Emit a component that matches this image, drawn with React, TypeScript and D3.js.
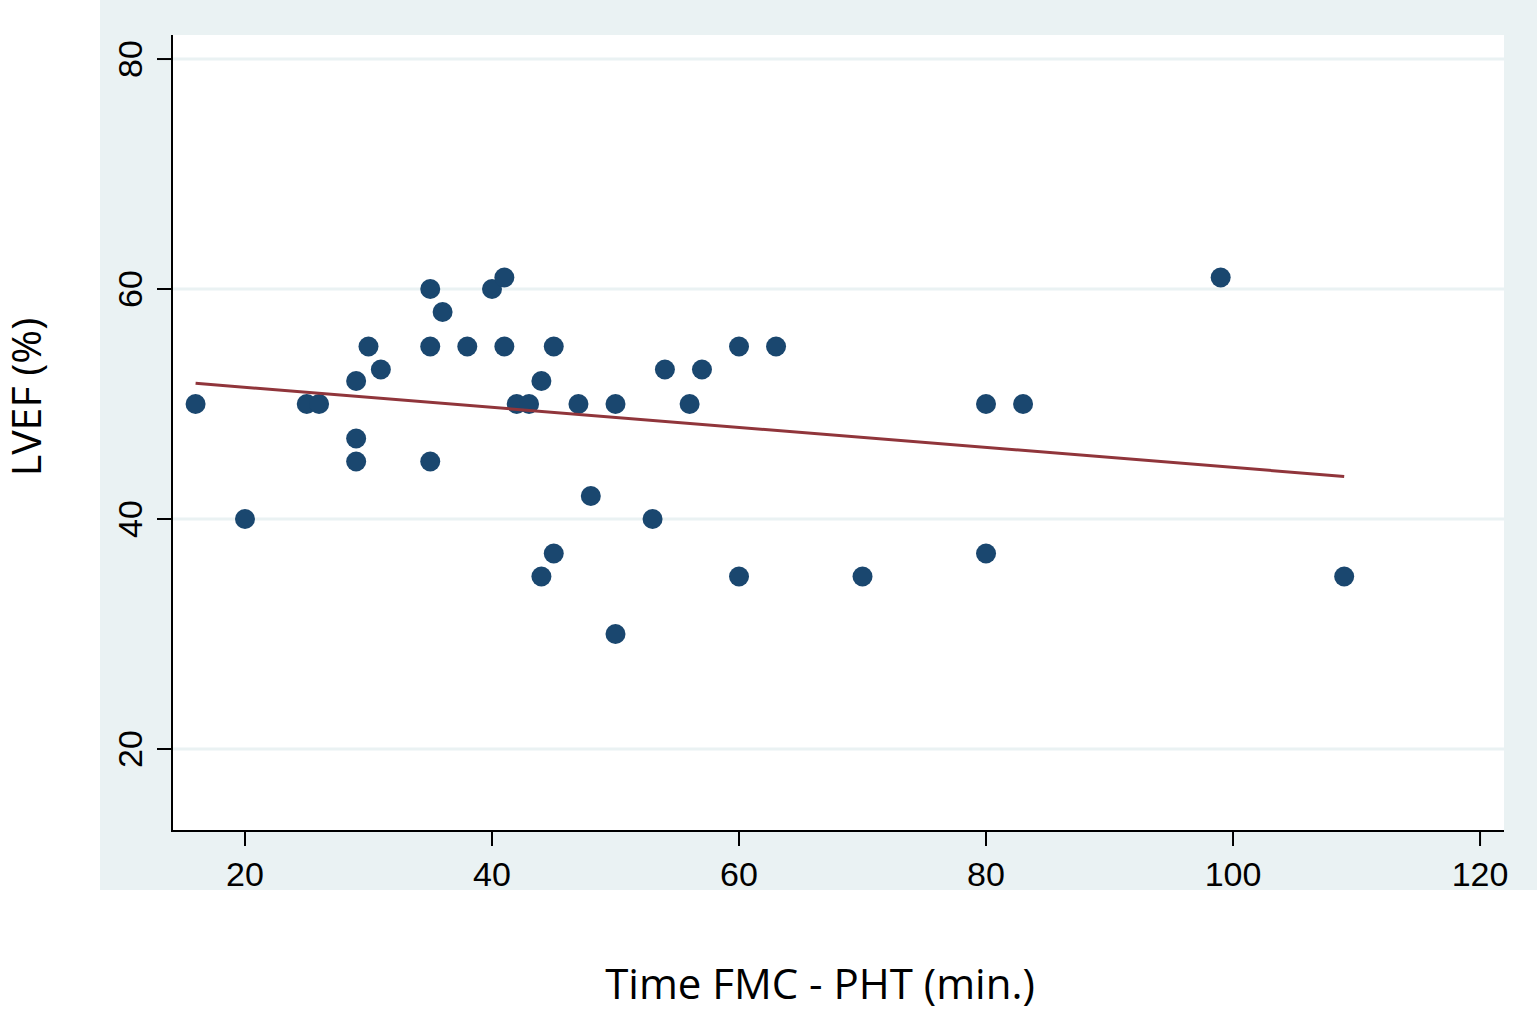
import React from "react";
import * as d3 from "d3";

const timeMin = [16, 20, 25, 26, 29, 29, 29, 30, 31, 35, 35, 35, 36, 38, 40, 41, 41, 42, 43, 44, 44, 45, 45, 47, 48, 50, 50, 53, 54, 56, 57, 60, 60, 63, 70, 80, 80, 83, 99, 109];
const lvef = [50, 40, 50, 50, 52, 47, 45, 55, 53, 60, 55, 45, 58, 55, 60, 61, 55, 50, 50, 52, 35, 55, 37, 50, 42, 50, 30, 40, 53, 50, 53, 55, 35, 55, 35, 50, 37, 50, 61, 35];
const fitX = [16, 109];
const fitY = [51.8, 43.7];
const xTicks = [20, 40, 60, 80, 100, 120];
const yTicks = [20, 40, 60, 80];

const W = 1537, H = 1009;
const plot = { left: 172, right: 1504, top: 35, bottom: 831 };

export default function App() {
  const x = d3.scaleLinear().domain([14.09, 121.94]).range([plot.left, plot.right]);
  const y = d3.scaleLinear().domain([12.87, 82.09]).range([plot.bottom, plot.top]);
  const line = d3.line<number>().x((d, i) => x(fitX[i])).y((d, i) => y(fitY[i]));
  const tickFont = "'Liberation Sans', Arial, sans-serif";
  const titleFont = "'Open Sans', 'Noto Sans', sans-serif";
  return (
    <svg width={W} height={H} style={{ position: "absolute", left: 0, top: 0, background: "#fff" }}>
      <rect x={100} y={0} width={W - 100} height={890} fill="#EAF2F3" />
      <rect x={plot.left} y={plot.top} width={plot.right - plot.left} height={plot.bottom - plot.top} fill="#fff" />
      {yTicks.map((t) => (
        <line key={"g" + t} x1={plot.left} x2={plot.right} y1={y(t)} y2={y(t)} stroke="#EAF2F3" strokeWidth={3} />
      ))}
      <line x1={plot.left} x2={plot.left} y1={plot.top} y2={plot.bottom + 1} stroke="#000" strokeWidth={2} />
      <line x1={plot.left - 1} x2={plot.right} y1={plot.bottom} y2={plot.bottom} stroke="#000" strokeWidth={2} />
      {yTicks.map((t) => (
        <g key={"y" + t}>
          <line x1={plot.left - 15} x2={plot.left} y1={y(t)} y2={y(t)} stroke="#000" strokeWidth={2} />
          <text
            transform={`translate(${142},${y(t)}) rotate(-90)`}
            textAnchor="middle"
            fontFamily={tickFont}
            fontSize={34}
            fill="#000"
          >
            {t}
          </text>
        </g>
      ))}
      {xTicks.map((t) => (
        <g key={"x" + t}>
          <line x1={x(t)} x2={x(t)} y1={plot.bottom} y2={plot.bottom + 15} stroke="#000" strokeWidth={2} />
          <text x={x(t)} y={886} textAnchor="middle" fontFamily={tickFont} fontSize={34} fill="#000">
            {t}
          </text>
        </g>
      ))}
      {timeMin.map((t, i) => (
        <circle key={"p" + i} cx={x(t)} cy={y(lvef[i])} r={10} fill="#1A476F" />
      ))}
      <path d={line(fitX) || ""} fill="none" stroke="#90353B" strokeWidth={3} />
      <text
        transform={`translate(${41},${397}) rotate(-90)`}
        textAnchor="middle"
        fontFamily={titleFont}
        fontSize={41}
        fill="#000"
      >
        LVEF (%)
      </text>
      <text x={820} y={999} textAnchor="middle" fontFamily={titleFont} fontSize={42} fill="#000">
        Time FMC - PHT (min.)
      </text>
    </svg>
  );
}
